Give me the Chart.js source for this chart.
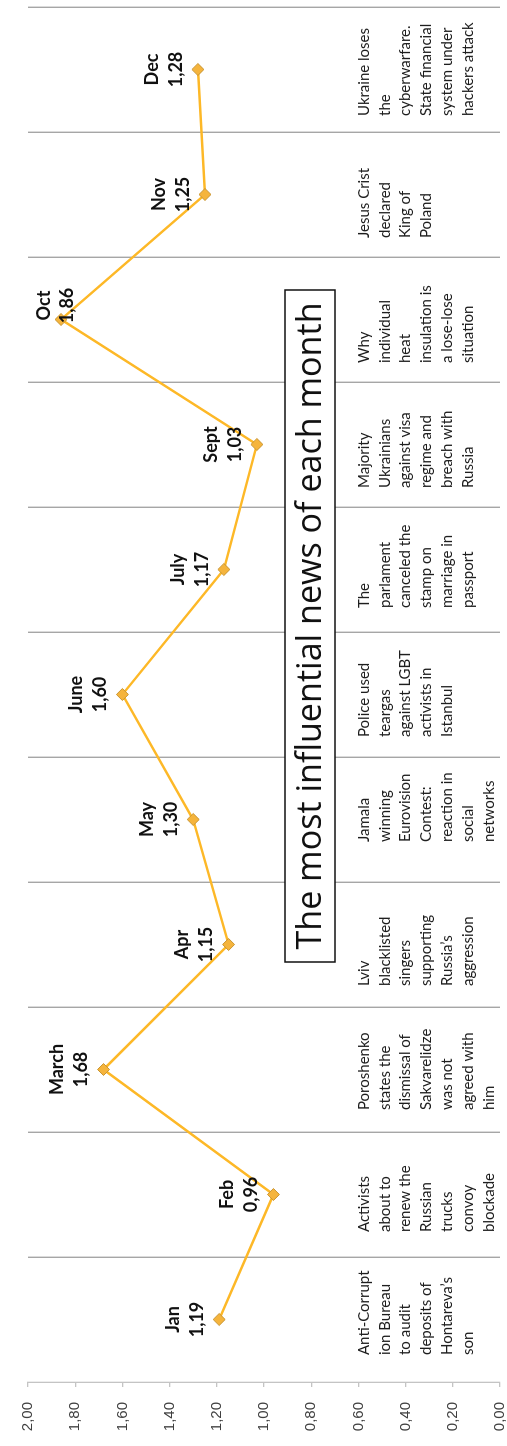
<!DOCTYPE html>
<html>
<head>
<meta charset="utf-8">
<script src="https://cdn.jsdelivr.net/npm/chart.js@4.4.1/dist/chart.umd.min.js"></script>
<style>
  html, body { margin: 0; padding: 0; width: 507px; height: 1446px; overflow: hidden; background: #fff; }
  #turn {
    position: absolute; left: 0; top: 0;
    width: 1446px; height: 507px;
    transform-origin: 0 0;
    transform: translateY(1446px) rotate(-90deg);
  }
</style>
</head>
<body>
<div id="turn"><canvas id="newsChart" width="1446" height="507"></canvas></div>
<script>
const months = ['Jan', 'Feb', 'March', 'Apr', 'May', 'June', 'July', 'Sept', 'Oct', 'Nov', 'Dec'];
const scores = [1.19, 0.96, 1.68, 1.15, 1.30, 1.60, 1.17, 1.03, 1.86, 1.25, 1.28];
const headlines = [
  ['Anti-Corrupt', 'ion Bureau', 'to audit', 'deposits of', 'Hontareva\u2019s', 'son'],
  ['Activists', 'about to', 'renew the', 'Russian', 'trucks', 'convoy', 'blockade'],
  ['Poroshenko', 'states the', 'dismissal of', 'Sakvarelidze', 'was not', 'agreed with', 'him'],
  ['Lviv', 'blacklisted', 'singers', 'supporting', 'Russia\u2019s', 'aggression'],
  ['Jamala', 'winning', 'Eurovision', 'Contest:', 'reaction in', 'social', 'networks'],
  ['Police used', 'teargas', 'against LGBT', 'activists in', 'Istanbul'],
  ['The', 'parlament', 'canceled the', 'stamp on', 'marriage in', 'passport'],
  ['Majority', 'Ukrainians', 'against visa', 'regime and', 'breach with', 'Russia'],
  ['Why', 'individual', 'heat', 'insulation is', 'a lose-lose', 'situation'],
  ['Jesus Crist', 'declared', 'King of', 'Poland'],
  ['Ukraine loses', 'the', 'cyberwarfare.', 'State financial', 'system under', 'hackers attack']
];
const chartTitle = 'The most influential news of each month';

// how far each headline block sits from the left edge of its month column
const noteInset = [27, 25, 22, 21, 40, 20, 24, 19, 19, 19, 16];

const fmt = v => v.toFixed(2).replace('.', ',');

const headlineNotes = {
  id: 'headlineNotes',
  beforeDatasetsDraw(chart) {
    const { ctx } = chart;
    const x = chart.scales.x;
    const step = x.getPixelForValue(1) - x.getPixelForValue(0);
    ctx.save();
    ctx.font = '15px Lato';
    ctx.fillStyle = '#1e1e1e';
    ctx.textAlign = 'left';
    ctx.textBaseline = 'middle';
    headlines.forEach((lines, i) => {
      const left = x.getPixelForValue(i) - step / 2 + noteInset[i];
      lines.forEach((t, j) => ctx.fillText(t, left, 364 + j * 20.8));
    });

    // boxed heading across the middle months
    const w = 672, h = 50;
    const cx = 820, cy = 310;
    ctx.fillStyle = '#fff';
    ctx.fillRect(cx - w / 2, cy - h / 2, w, h);
    ctx.strokeStyle = '#111';
    ctx.lineWidth = 1.5;
    ctx.strokeRect(cx - w / 2, cy - h / 2, w, h);
    ctx.font = '32px "Open Sans"';
    const size = 32 * 648 / ctx.measureText(chartTitle).width;
    ctx.font = size.toFixed(1) + 'px "Open Sans"';
    ctx.fillStyle = '#111';
    ctx.textAlign = 'center';
    ctx.fillText(chartTitle, cx, cy + 1);
    ctx.restore();
  }
};

const pointLabels = {
  id: 'pointLabels',
  afterDatasetsDraw(chart) {
    const { ctx } = chart;
    const meta = chart.getDatasetMeta(0);
    ctx.save();
    ctx.font = 'bold 18px Lato';
    ctx.fillStyle = '#111';
    ctx.textAlign = 'center';
    ctx.textBaseline = 'middle';
    meta.data.forEach((pt, i) => {
      let x = pt.x, monY = pt.y - 46, valY = pt.y - 22;
      if (monY < 44) {
        // no room above the point: keep it inside and nudge it sideways
        monY = 44; valY = 67; x += 14;
      }
      ctx.fillText(months[i], x, monY);
      ctx.fillText(fmt(scores[i]), x, valY);
    });
    ctx.restore();
  }
};

new Chart(document.getElementById('newsChart'), {
  type: 'line',
  data: {
    labels: months,
    datasets: [{
      data: scores,
      borderColor: '#FDB827',
      borderWidth: 2.5,
      tension: 0,
      pointStyle: 'rectRot',
      pointRadius: 6,
      pointBackgroundColor: '#F5B43C',
      pointBorderColor: '#C99532',
      pointBorderWidth: 1
    }]
  },
  options: {
    responsive: false,
    animation: false,
    devicePixelRatio: 1,
    layout: { padding: { top: 28, bottom: 7, right: 1, left: 0 } },
    plugins: { legend: { display: false }, tooltip: { enabled: false } },
    scales: {
      x: {
        offset: true,
        grid: {
          offset: true,
          drawTicks: false,
          color: c => c.index === 0 ? 'rgba(0,0,0,0)' : '#a6a6a6',
          lineWidth: 1.4
        },
        border: { display: false },
        ticks: { display: false },
        afterFit: s => { s.height = 0; }
      },
      y: {
        min: 0,
        max: 2,
        ticks: {
          stepSize: 0.2,
          padding: 15,
          color: '#404040',
          font: { family: 'Liberation Sans', size: 15 },
          callback: v => fmt(v)
        },
        grid: { drawOnChartArea: false, tickLength: 5, color: '#c4c4c4', lineWidth: 1.3 },
        border: { color: '#c4c4c4', width: 1.3 },
        afterFit: s => {
          // fixed axis width; the tick padding must not eat into the plot height
          s.width = 64;
          s.paddingTop = 0;
          s.paddingBottom = 0;
        }
      }
    }
  },
  plugins: [headlineNotes, pointLabels]
});
</script>
</body>
</html>
